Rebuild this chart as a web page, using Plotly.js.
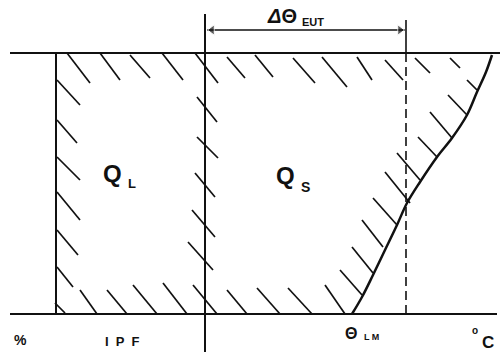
<!DOCTYPE html>
<html><head><meta charset="utf-8">
<script src="https://cdn.plot.ly/plotly-3.0.1.min.js"></script>
<style>html,body{margin:0;padding:0;background:#fff}#c{width:502px;height:355px}</style>
</head><body><div id="c"></div>
<script>
// Diagram geometry (diagram units = pixel grid of the figure, y downward)
const frameTop = {x:[10,500], y:[53,53]};
const frameBottom = {x:[10,497], y:[314,314]};
const leftWall = {x:[56,56], y:[53,314]};
const midWall = {x:[205,205], y:[14,352]};
const rightTick = {x:[406,406], y:[20,53]};
const rightDash = {x:[406,406], y:[53,314]};
// Liquidus-type curve (θ_LM at bottom up to top right)
const curveX = [352,362,373,385,397,407,420,437,452,467,477,486,492];
const curveY = [314,297,275,250,225,203,182,157,138,115,92,72,55];
// Hatch strokes [x1,y1,x2,y2]
const hatchSegs = [
  [67,53,90,83],[100,53,120,80],[130,55,150,78],[162,53,183,80],[195,53,218,83],
  [57,80,80,105],[57,120,77,143],[57,157,80,180],[57,192,80,220],[57,230,78,255],[57,267,73,287],
  [197,97,217,122],[197,137,218,158],[195,173,215,197],[192,210,215,237],[188,242,213,270],
  [55,303,65,313],[80,290,97,314],[107,290,127,314],[133,285,157,314],[163,283,187,314],
  [193,285,217,314],[227,290,247,314],[257,288,280,314],[288,288,312,314],[325,285,345,314],
  [227,57,245,78],[255,55,273,77],[293,58,315,83],[322,57,347,87],[357,57,372,80],
  [385,60,403,80],[415,58,430,73],[450,58,460,68],
  [340,270,362,295],[352,247,373,273],[362,220,383,247],[373,198,397,225],[385,172,410,203],
  [397,153,420,180],[418,137,437,157],[430,112,452,138],[448,95,467,115],[467,80,477,90]
];
const arrowY = 30, arrowL = 207, arrowR = 405;
const labels = [
  {t:'Q', x:112, y:173, s:24},
  {t:'L', x:132, y:183, s:13},
  {t:'Q', x:285, y:175, s:24},
  {t:'S', x:305, y:187, s:14},
  {t:'<i>Δ</i>Θ', x:282, y:16, s:20},
  {t:'EUT', x:313, y:22, s:11},
  {t:'%', x:20, y:340, s:14},
  {t:'I  P  F', x:122, y:341, s:13},
  {t:'Θ', x:351, y:333, s:16},
  {t:'L M', x:371, y:337, s:9},
  {t:'o', x:475, y:330, s:10},
  {t:'C', x:488, y:342, s:17}
];

const hx=[], hy=[];
hatchSegs.forEach(s=>{hx.push(s[0],s[2],null); hy.push(s[1],s[3],null);});
const black='#111';
const ln=(o,w,d)=>({type:'scatter',mode:'lines',x:o.x,y:o.y,line:{color:black,width:w,dash:d||'solid'},hoverinfo:'skip',showlegend:false});
const data=[
  ln(frameTop,2.2), ln(frameBottom,2.2), ln(leftWall,2), ln(midWall,2),
  ln(rightTick,1.6), ln(rightDash,1.6,'9px,5px'),
  {type:'scatter',mode:'lines',x:curveX,y:curveY,line:{color:black,width:2.5,shape:'spline'},hoverinfo:'skip',showlegend:false},
  {type:'scatter',mode:'lines',x:hx,y:hy,line:{color:black,width:1.7},hoverinfo:'skip',showlegend:false,connectgaps:false},
  {type:'scatter',mode:'lines',x:[arrowL,arrowR],y:[arrowY,arrowY],line:{color:black,width:1.5},hoverinfo:'skip',showlegend:false},
  {type:'scatter',mode:'markers',x:[arrowL+5,arrowR-5],y:[arrowY,arrowY],marker:{symbol:['triangle-left','triangle-right'],size:[9,9],color:black},hoverinfo:'skip',showlegend:false}
];
const ann=[];
labels.forEach(l=>ann.push({x:l.x,y:l.y,xref:'x',yref:'y',text:'<b>'+l.t+'</b>',showarrow:false,font:{family:'Liberation Sans, Arial, sans-serif',size:l.s,color:black}}));
const layout={
  width:502,height:355,margin:{l:0,r:0,t:0,b:0},paper_bgcolor:'#fff',plot_bgcolor:'#fff',
  xaxis:{range:[0,502],visible:false,fixedrange:true},
  yaxis:{range:[355,0],visible:false,fixedrange:true},
  annotations:ann,showlegend:false
};
Plotly.newPlot('c',data,layout,{staticPlot:true,displayModeBar:false});
</script></body></html>
